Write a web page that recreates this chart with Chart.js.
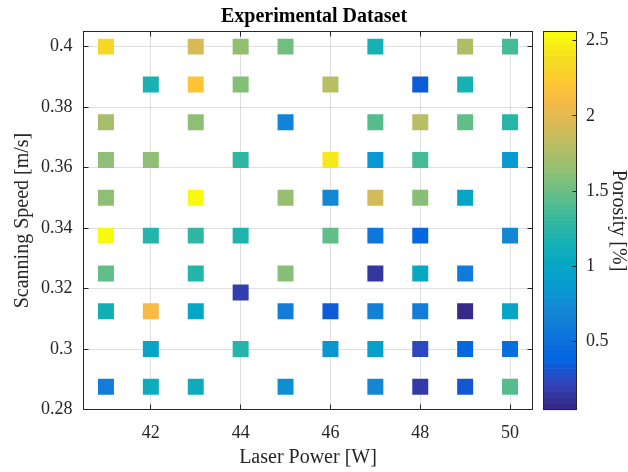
<!DOCTYPE html>
<html>
<head>
<meta charset="utf-8">
<script src="https://cdn.jsdelivr.net/npm/chart.js@4"></script>
<style>
  body { margin: 0; background: #fff; }
  canvas { display: block; }
</style>
</head>
<body>
<canvas id="grafico" width="628" height="472"></canvas>
<script>
// Dados: potência do laser [W], velocidade de varredura [m/s], porosidade [%]
const power = [
  41, 43, 44, 45, 47, 49, 50,
  42, 43, 44, 46, 48, 49,
  41, 43, 45, 47, 48, 49, 50,
  41, 42, 44, 46, 47, 48, 50,
  41, 43, 45, 46, 47, 48, 49,
  41, 42, 43, 44, 46, 47, 48, 50,
  41, 43, 45, 47, 48, 49,
  44,
  41, 42, 43, 45, 46, 47, 48, 49, 50,
  42, 44, 46, 47, 48, 49, 50,
  41, 42, 43, 45, 47, 48, 49, 50
];
const speed = [
  0.4, 0.4, 0.4, 0.4, 0.4, 0.4, 0.4,
  0.3875, 0.3875, 0.3875, 0.3875, 0.3875, 0.3875,
  0.375, 0.375, 0.375, 0.375, 0.375, 0.375, 0.375,
  0.3625, 0.3625, 0.3625, 0.3625, 0.3625, 0.3625, 0.3625,
  0.35, 0.35, 0.35, 0.35, 0.35, 0.35, 0.35,
  0.3375, 0.3375, 0.3375, 0.3375, 0.3375, 0.3375, 0.3375, 0.3375,
  0.325, 0.325, 0.325, 0.325, 0.325, 0.325,
  0.3187,
  0.3125, 0.3125, 0.3125, 0.3125, 0.3125, 0.3125, 0.3125, 0.3125, 0.3125,
  0.3, 0.3, 0.3, 0.3, 0.3, 0.3, 0.3,
  0.2875, 0.2875, 0.2875, 0.2875, 0.2875, 0.2875, 0.2875, 0.2875
];
const porosity = [
  2.36, 1.97, 1.65, 1.53, 1.17, 1.77, 1.37,
  1.18, 2.21, 1.59, 1.81, 0.33, 1.17,
  1.73, 1.63, 0.67, 1.43, 1.81, 1.47, 1.25,
  1.63, 1.63, 1.29, 2.45, 0.85, 1.37, 0.85,
  1.63, 2.56, 1.67, 0.71, 1.93, 1.61, 0.99,
  2.56, 1.23, 1.29, 1.21, 1.47, 0.55, 0.41, 0.71,
  1.47, 1.23, 1.61, 0.13, 1.03, 0.59,
  0.17,
  1.13, 2.11, 1.01, 0.61, 0.33, 0.65, 0.61, 0.05, 0.99,
  0.99, 1.23, 0.83, 0.95, 0.23, 0.41, 0.47,
  0.61, 1.09, 1.09, 0.77, 0.71, 0.15, 0.31, 1.43
];

// Marcas dos eixos
const xTicks = [42, 44, 46, 48, 50];
const yTicks = [0.28, 0.3, 0.32, 0.34, 0.36, 0.38, 0.4];
const cbTicks = [0.5, 1, 1.5, 2, 2.5];

const cMin = 0.05, cMax = 2.56;
const fonte = 'Liberation Serif, Times New Roman, serif';
const corEixo = '#262626';

// Mapa de cores parula (posição, r, g, b)
const parulaStops = [
  [0 / 63, 0.2081, 0.1663, 0.5292],
  [4 / 63, 0.1959, 0.2645, 0.7279],
  [8 / 63, 0.0117, 0.3875, 0.8820],
  [12 / 63, 0.0498, 0.4586, 0.8641],
  [16 / 63, 0.0793, 0.5200, 0.8312],
  [20 / 63, 0.0343, 0.5966, 0.8199],
  [24 / 63, 0.0228, 0.6535, 0.7768],
  [28 / 63, 0.0843, 0.6928, 0.7062],
  [32 / 63, 0.2178, 0.7250, 0.6193],
  [36 / 63, 0.3953, 0.7459, 0.5244],
  [40 / 63, 0.5709, 0.7485, 0.4494],
  [44 / 63, 0.7184, 0.7411, 0.3905],
  [48 / 63, 0.8507, 0.7299, 0.3360],
  [52 / 63, 0.9739, 0.7314, 0.2666],
  [55 / 63, 0.9955, 0.7861, 0.1967],
  [59 / 63, 0.9626, 0.8705, 0.1309],
  [63 / 63, 0.9763, 0.9831, 0.0538]
];

function parula(t) {
  t = Math.max(0, Math.min(1, t));
  for (let i = 1; i < parulaStops.length; i++) {
    const a = parulaStops[i - 1], b = parulaStops[i];
    if (t <= b[0]) {
      const f = (t - a[0]) / (b[0] - a[0]);
      const c = [1, 2, 3].map(k => Math.round(255 * (a[k] + f * (b[k] - a[k]))));
      return `rgb(${c[0]}, ${c[1]}, ${c[2]})`;
    }
  }
  return 'rgb(249, 251, 14)';
}

function corDe(v) {
  return parula((v - cMin) / (cMax - cMin));
}

// Moldura com marcas internas e barra de cores
const moldura = {
  id: 'moldura',
  afterDatasetsDraw(chart) {
    const { ctx, chartArea: a, scales: { x, y, cb } } = chart;
    ctx.save();
    ctx.strokeStyle = corEixo;
    ctx.lineWidth = 1;
    ctx.beginPath();
    xTicks.forEach(v => {
      const px = Math.round(x.getPixelForValue(v) - 0.5) + 0.5;
      ctx.moveTo(px, a.bottom); ctx.lineTo(px, a.bottom - 5);
      ctx.moveTo(px, a.top); ctx.lineTo(px, a.top + 5);
    });
    yTicks.forEach(v => {
      const py = Math.round(y.getPixelForValue(v) - 0.5) + 0.5;
      ctx.moveTo(a.left, py); ctx.lineTo(a.left + 5, py);
      ctx.moveTo(a.right, py); ctx.lineTo(a.right - 5, py);
    });
    ctx.stroke();
    ctx.strokeRect(a.left, a.top, a.right - a.left, a.bottom - a.top);

    // barra de cores
    const bx = 543.5, bw = 33;
    const passo = (cMax - cMin) / 64;
    for (let i = 0; i < 64; i++) {
      const y0 = cb.getPixelForValue(cMin + i * passo);
      const y1 = cb.getPixelForValue(cMin + (i + 1) * passo);
      ctx.fillStyle = parula(i / 63);
      ctx.fillRect(bx, y1, bw, y0 - y1 + 0.6);
    }
    ctx.beginPath();
    cbTicks.forEach(v => {
      const py = Math.round(cb.getPixelForValue(v) - 0.5) + 0.5;
      ctx.moveTo(bx + bw, py); ctx.lineTo(bx + bw - 4, py);
    });
    ctx.stroke();
    ctx.strokeRect(bx, cb.top, bw, cb.bottom - cb.top);
    ctx.restore();
  }
};

// Larguras fixas das caixas dos eixos, sem folga extra para os rótulos
function caixa(largura, altura) {
  return s => {
    if (largura) s.width = largura;
    if (altura) s.height = altura;
    s.paddingTop = 0; s.paddingBottom = 0;
    s.paddingLeft = 0; s.paddingRight = 0;
  };
}

const ctx = document.getElementById('grafico').getContext('2d');
const grafico = new Chart(ctx, {
  type: 'scatter',
  data: {
    datasets: [{
      data: power.map((p, i) => ({ x: p, y: speed[i] })),
      backgroundColor: porosity.map(corDe),
      pointStyle: 'rect',
      pointRadius: 11.3,
      pointHoverRadius: 11.3,
      borderWidth: 0
    }]
  },
  options: {
    responsive: false,
    animation: false,
    events: [],
    layout: { padding: 0 },
    plugins: {
      legend: { display: false },
      tooltip: { enabled: false },
      title: {
        display: true,
        text: 'Experimental Dataset',
        color: '#000',
        font: { family: fonte, size: 20, weight: 'bold' },
        padding: { top: 5, bottom: 2.5 }
      }
    },
    scales: {
      x: {
        type: 'linear',
        min: 40.5,
        max: 50.5,
        afterBuildTicks: s => { s.ticks = xTicks.map(v => ({ value: v })); },
        afterFit: caixa(0, 62.5),
        grid: { color: 'rgba(38,38,38,0.15)', drawTicks: false },
        border: { display: false },
        ticks: { color: corEixo, font: { family: fonte, size: 18 }, padding: 13 },
        title: {
          display: true, text: 'Laser Power [W]', color: corEixo,
          font: { family: fonte, size: 20 }, padding: { top: 0, bottom: 2 }
        }
      },
      y: {
        type: 'linear',
        position: 'left',
        min: 0.28,
        max: 0.405,
        afterBuildTicks: s => { s.ticks = yTicks.map(v => ({ value: v })); },
        afterFit: caixa(83.5, 0),
        grid: { color: 'rgba(38,38,38,0.15)', drawTicks: false },
        border: { display: false },
        ticks: { color: corEixo, font: { family: fonte, size: 18 }, padding: 11, callback: v => String(v) },
        title: {
          display: true, text: 'Scanning Speed [m/s]', color: corEixo,
          font: { family: fonte, size: 20 }, padding: { top: 11, bottom: 0 }
        }
      },
      cb: {
        type: 'linear',
        position: 'right',
        min: cMin,
        max: cMax,
        afterBuildTicks: s => { s.ticks = cbTicks.map(v => ({ value: v })); },
        afterFit: caixa(95.5, 0),
        grid: { display: false, drawTicks: false },
        border: { display: false },
        ticks: { color: corEixo, font: { family: fonte, size: 18 }, padding: 53.5, callback: v => String(v) },
        title: {
          display: true, text: 'Porosity [%]', color: corEixo,
          font: { family: fonte, size: 20, lineHeight: 1 }, padding: { top: 0, bottom: 0 }
        }
      }
    }
  },
  plugins: [moldura]
});
</script>
</body>
</html>
